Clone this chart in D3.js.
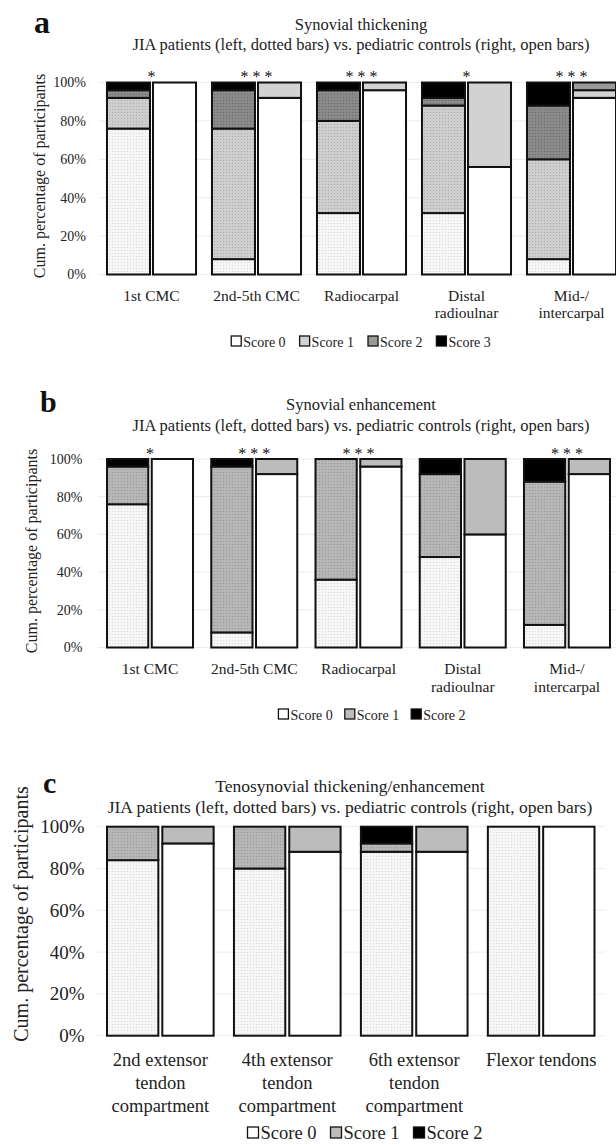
<!DOCTYPE html>
<html>
<head>
<meta charset="utf-8">
<script src="https://cdn.jsdelivr.net/npm/d3@7"></script>
<style>
  body { margin: 0; background: #fff; }
  svg { display: block; font-family: "Liberation Serif", "Times New Roman", serif; }
</style>
</head>
<body>
<script>
// ---- panel a: synovial thickening (% of participants per score) ----
var aCategories = ["1st CMC", "2nd-5th CMC", "Radiocarpal", "Distal\nradioulnar", "Mid-/\nintercarpal"];
var aJiaScore0 = [76, 8, 32, 32, 8];
var aJiaScore1 = [16, 68, 48, 56, 52];
var aJiaScore2 = [4, 20, 16, 4, 28];
var aJiaScore3 = [4, 4, 4, 8, 12];
var aCtlScore0 = [100, 92, 96, 56, 92];
var aCtlScore1 = [0, 8, 4, 44, 4];
var aCtlScore2 = [0, 0, 0, 0, 4];
var aCtlScore3 = [0, 0, 0, 0, 0];
var aStars = ["*", "***", "***", "*", "***"];

// ---- panel b: synovial enhancement ----
var bCategories = ["1st CMC", "2nd-5th CMC", "Radiocarpal", "Distal\nradioulnar", "Mid-/\nintercarpal"];
var bJiaScore0 = [76, 8, 36, 48, 12];
var bJiaScore1 = [20, 88, 64, 44, 76];
var bJiaScore2 = [4, 4, 0, 8, 12];
var bCtlScore0 = [100, 92, 96, 60, 92];
var bCtlScore1 = [0, 8, 4, 40, 8];
var bCtlScore2 = [0, 0, 0, 0, 0];
var bStars = ["*", "***", "***", "", "***"];

// ---- panel c: tenosynovial thickening/enhancement ----
var cCategories = ["2nd extensor\ntendon\ncompartment", "4th extensor\ntendon\ncompartment", "6th extensor\ntendon\ncompartment", "Flexor tendons"];
var cJiaScore0 = [84, 80, 88, 100];
var cJiaScore1 = [16, 20, 4, 0];
var cJiaScore2 = [0, 0, 8, 0];
var cCtlScore0 = [92, 88, 88, 100];
var cCtlScore1 = [8, 12, 12, 0];
var cCtlScore2 = [0, 0, 0, 0];

var yTicks = [0, 20, 40, 60, 80, 100];
var subtitle = "JIA patients (left, dotted bars) vs. pediatric controls (right, open bars)";

var width = 616, height = 1145;

var svg = d3.select("body").append("svg")
    .attr("width", width)
    .attr("height", height);

var defs = svg.append("defs");

// dotted fill for the JIA bars
function dotted(base, dot) {
    var id = "dot" + base.replace("#", "") + dot.replace("#", "");
    if (defs.select("#" + id).empty()) {
        var p = defs.append("pattern")
            .attr("id", id)
            .attr("patternUnits", "userSpaceOnUse")
            .attr("width", 3).attr("height", 3);
        p.append("rect").attr("width", 3).attr("height", 3).attr("fill", base);
        p.append("circle").attr("cx", 1.5).attr("cy", 1.5).attr("r", 0.6).attr("fill", dot);
    }
    return "url(#" + id + ")";
}

function drawPanel(cfg) {
    var keys = cfg.jia.map(function(d, i) { return "s" + i; });

    function rows(arrs) {
        return cfg.categories.map(function(c, i) {
            var r = { cat: c };
            arrs.forEach(function(a, k) { r["s" + k] = a[i]; });
            return r;
        });
    }
    var stack = d3.stack().keys(keys);
    var jiaSeries = stack(rows(cfg.jia));
    var ctlSeries = stack(rows(cfg.ctl));

    var x = d3.scaleBand()
        .domain(cfg.categories)
        .range(cfg.xRange)
        .paddingInner(cfg.padInner)
        .paddingOuter(cfg.padInner / 2);

    var inner = d3.scaleBand()
        .domain(["jia", "ctl"])
        .range([0, x.bandwidth()])
        .paddingInner(cfg.barGap);

    var y = d3.scaleLinear().domain([0, 100]).range([cfg.y0, cfg.y100]);

    var g = svg.append("g");

    // faint gridlines
    g.append("g")
        .selectAll("line")
        .data(yTicks)
        .join("line")
        .attr("x1", cfg.gridX[0]).attr("x2", cfg.gridX[1])
        .attr("y1", function(d) { return y(d); })
        .attr("y2", function(d) { return y(d); })
        .attr("stroke", "#ececec")
        .attr("stroke-width", 1);

    // y axis labels
    var yAxis = g.append("g")
        .attr("transform", "translate(" + cfg.tickRight + ",0)")
        .call(d3.axisLeft(y).tickValues(yTicks).tickFormat(function(d) { return d + "%"; }).tickSize(0).tickPadding(0));
    yAxis.select(".domain").remove();
    yAxis.selectAll("text")
        .attr("font-family", "Liberation Serif")
        .attr("font-size", cfg.tickSize)
        .attr("fill", "#222");

    // y axis title
    g.append("text")
        .attr("transform", "translate(" + cfg.yTitleX + "," + cfg.yTitleY + ") rotate(-90)")
        .attr("text-anchor", "middle")
        .attr("dy", "0.35em")
        .attr("font-size", cfg.yTitleSize)
        .attr("fill", "#222")
        .text("Cum. percentage of participants");

    // bars
    function drawBars(series, which, fills) {
        series.forEach(function(s, k) {
            g.append("g")
                .selectAll("rect")
                .data(s.filter(function(d) { return d[1] - d[0] > 0; }))
                .join("rect")
                .attr("x", function(d) { return x(d.data.cat) + inner(which); })
                .attr("y", function(d) { return y(d[1]); })
                .attr("width", inner.bandwidth())
                .attr("height", function(d) { return y(d[0]) - y(d[1]); })
                .attr("fill", fills[k])
                .attr("stroke", "#111")
                .attr("stroke-width", 2);
        });
    }
    drawBars(jiaSeries, "jia", cfg.jiaFills);
    drawBars(ctlSeries, "ctl", cfg.ctlFills);

    // significance stars
    if (cfg.stars) {
        g.append("g")
            .selectAll("text")
            .data(cfg.stars)
            .join("text")
            .attr("x", function(d, i) { return x(cfg.categories[i]) + x.bandwidth() / 2; })
            .attr("y", cfg.starY)
            .attr("text-anchor", "middle")
            .attr("font-size", 16)
            .attr("fill", "#111")
            .text(function(d) { return d.split("").join(" "); });
    }

    // category labels
    var xAxis = g.append("g")
        .attr("transform", "translate(0," + cfg.catY + ")")
        .call(d3.axisBottom(x).tickSize(0).tickPadding(0));
    xAxis.select(".domain").remove();
    xAxis.selectAll("text").each(function(d) {
        var t = d3.select(this).text("")
            .attr("y", 0).attr("dy", null)
            .attr("font-family", "Liberation Serif")
            .attr("font-size", cfg.catSize)
            .attr("fill", "#222");
        d.split("\n").forEach(function(line, i) {
            t.append("tspan").attr("x", 0).attr("y", i * cfg.catLine).text(line);
        });
    });

    // panel letter and titles
    svg.append("text")
        .attr("x", cfg.letterX).attr("y", cfg.letterY)
        .attr("font-size", cfg.letterSize)
        .attr("font-weight", "bold")
        .attr("fill", "#111")
        .text(cfg.letter);

    svg.append("text")
        .attr("x", cfg.titleX).attr("y", cfg.titleY)
        .attr("text-anchor", "middle")
        .attr("font-size", cfg.titleSize)
        .attr("fill", "#222")
        .text(cfg.title);
    svg.append("text")
        .attr("x", cfg.titleX).attr("y", cfg.titleY + cfg.titleLine)
        .attr("text-anchor", "middle")
        .attr("font-size", cfg.titleSize)
        .attr("fill", "#222")
        .text(subtitle);

    // legend, laid out from measured text widths and centred
    var leg = svg.append("g");
    var items = leg.selectAll("g")
        .data(cfg.ctlFills)
        .join("g");
    items.append("rect")
        .attr("x", 0).attr("y", -cfg.legendBox - 1)
        .attr("width", cfg.legendBox).attr("height", cfg.legendBox)
        .attr("fill", function(d) { return d; })
        .attr("stroke", "#111")
        .attr("stroke-width", 1.3);
    items.append("text")
        .attr("x", cfg.legendBox + 2)
        .attr("y", 0)
        .attr("font-size", cfg.legendSize)
        .attr("fill", "#222")
        .text(function(d, i) { return "Score " + i; });
    var pos = 0;
    items.each(function() {
        var it = d3.select(this);
        it.attr("transform", "translate(" + pos + ",0)");
        pos += cfg.legendBox + 2 + it.select("text").node().getComputedTextLength() + cfg.legendGap;
    });
    pos -= cfg.legendGap;
    leg.attr("transform", "translate(" + (cfg.legendCenter - pos / 2) + "," + cfg.legendY + ")");
}

drawPanel({
    letter: "a", letterX: 34, letterY: 33, letterSize: 32,
    title: "Synovial thickening", titleX: 361, titleY: 30, titleLine: 20, titleSize: 16.5,
    categories: aCategories,
    jia: [aJiaScore0, aJiaScore1, aJiaScore2, aJiaScore3],
    ctl: [aCtlScore0, aCtlScore1, aCtlScore2, aCtlScore3],
    jiaFills: [dotted("#f6f6f6", "#d6d6d6"), dotted("#cecece", "#a8a8a8"), dotted("#8a8a8a", "#666"), "#000"],
    ctlFills: ["#fff", "#d2d2d2", "#999", "#000"],
    stars: aStars, starY: 82,
    xRange: [99, 624], padInner: 0.152, barGap: 0.065,
    y0: 274.5, y100: 82.5, gridX: [99, 616],
    tickRight: 86, tickSize: 14,
    yTitleX: 39, yTitleY: 176, yTitleSize: 16,
    catY: 301, catLine: 17, catSize: 15.5,
    legendCenter: 361, legendY: 347, legendGap: 14, legendBox: 10, legendSize: 14
});

drawPanel({
    letter: "b", letterX: 40, letterY: 412, letterSize: 30,
    title: "Synovial enhancement", titleX: 361, titleY: 410, titleLine: 21, titleSize: 16.5,
    categories: bCategories,
    jia: [bJiaScore0, bJiaScore1, bJiaScore2],
    ctl: [bCtlScore0, bCtlScore1, bCtlScore2],
    jiaFills: [dotted("#f6f6f6", "#d6d6d6"), dotted("#b6b6b6", "#949494"), "#000"],
    ctlFills: ["#fff", "#bcbcbc", "#000"],
    stars: bStars, starY: 459,
    xRange: [97.9, 619.1], padInner: 0.175, barGap: 0.078,
    y0: 647.5, y100: 459, gridX: [98, 616],
    tickRight: 82.5, tickSize: 14,
    yTitleX: 31, yTitleY: 551, yTitleSize: 16,
    catY: 674, catLine: 18, catSize: 15.5,
    legendCenter: 372, legendY: 720, legendGap: 12, legendBox: 10, legendSize: 14
});

drawPanel({
    letter: "c", letterX: 43, letterY: 793, letterSize: 30,
    title: "Tenosynovial thickening/enhancement", titleX: 350, titleY: 792, titleLine: 21, titleSize: 17.5,
    categories: cCategories,
    jia: [cJiaScore0, cJiaScore1, cJiaScore2],
    ctl: [cCtlScore0, cCtlScore1, cCtlScore2],
    jiaFills: [dotted("#f6f6f6", "#d6d6d6"), dotted("#b6b6b6", "#949494"), "#000"],
    ctlFills: ["#fff", "#bcbcbc", "#000"],
    stars: null,
    xRange: [96.85, 604.65], padInner: 0.16, barGap: 0.072,
    y0: 1035.7, y100: 826.7, gridX: [97, 605],
    tickRight: 84.5, tickSize: 19,
    yTitleX: 21, yTitleY: 914, yTitleSize: 20,
    catY: 1066, catLine: 23, catSize: 18.5,
    legendCenter: 365, legendY: 1139, legendGap: 14, legendBox: 11, legendSize: 18.5
});
</script>
</body>
</html>
